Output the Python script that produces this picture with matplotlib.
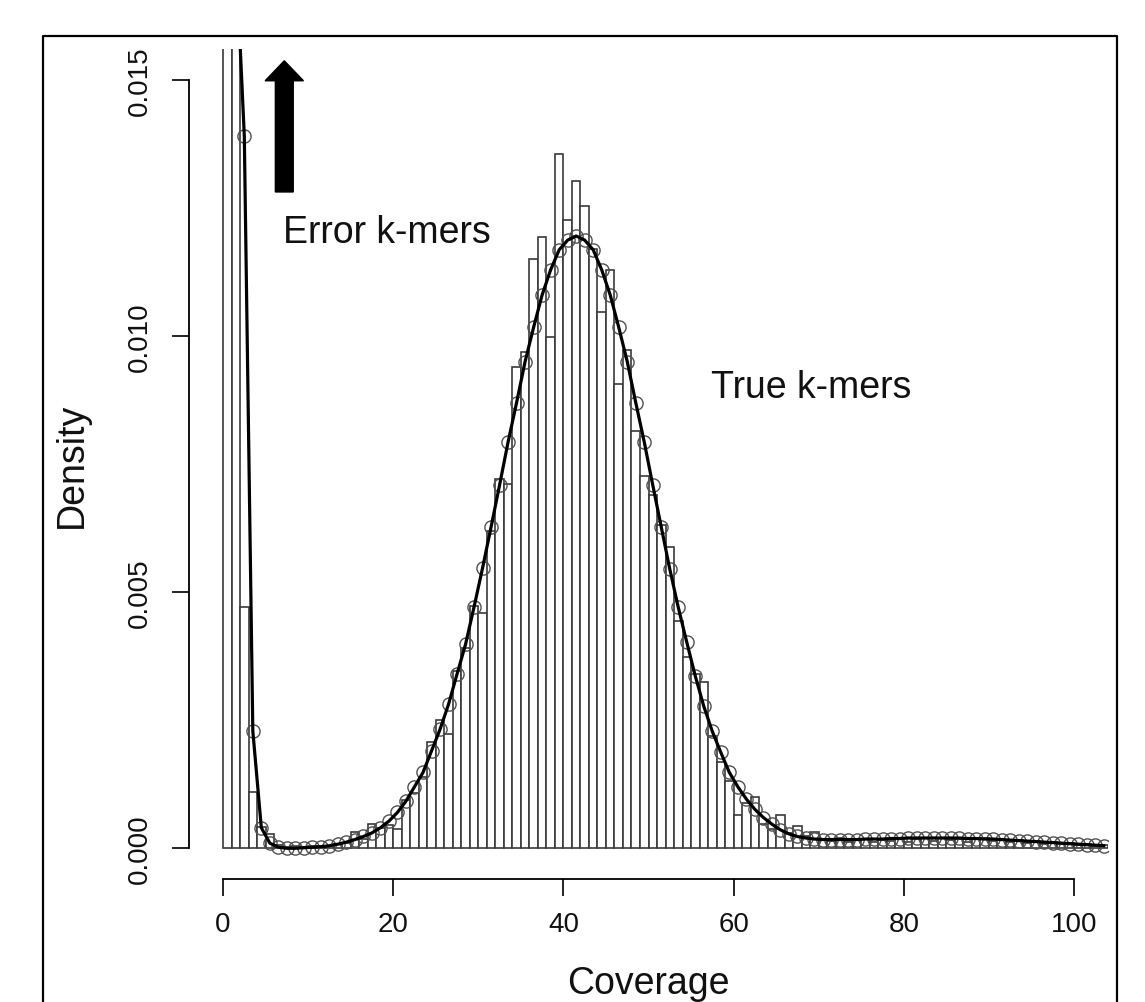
import numpy as np
import matplotlib.pyplot as plt
from matplotlib.patches import FancyArrow
from matplotlib.lines import Line2D

plt.rcParams['font.family'] = ['Liberation Sans', 'DejaVu Sans']

# histogram: density of k-mers per coverage bin [k, k+1)
bin_left = list(range(0, 104))
hist_density = [
    0.060, 0.028, 0.0047, 0.0011, 0.00042, 0.00027, 0.00006, 0.00003, 0.00004, 0.00003,
    0.00004, 0.00005, 0.00004, 0.00009, 0.00011, 0.00032, 0.00018, 0.00047, 0.00039, 0.00045,
    0.00037, 0.00094, 0.00108, 0.0014, 0.00207, 0.0025, 0.00223, 0.00346, 0.0039, 0.00473,
    0.0046, 0.0062, 0.0072, 0.00711, 0.00939, 0.00968, 0.01151, 0.01194, 0.00997, 0.01355,
    0.01226, 0.01302, 0.01254, 0.0117, 0.01046, 0.01129, 0.00907, 0.00973, 0.00814, 0.00726,
    0.0069, 0.0063, 0.00588, 0.00443, 0.00373, 0.0034, 0.00324, 0.00219, 0.00168, 0.00131,
    0.00065, 0.00088, 0.001, 0.00047, 0.00037, 0.00065, 0.0003, 0.00043, 0.00024, 0.00031,
    0.00016, 0.00014, 0.0002, 0.00013, 0.00016, 0.00019, 0.00012, 0.00017, 0.00015, 0.0002,
    0.00013, 0.00018, 0.0002, 0.00014, 0.00021, 0.00016, 0.00019, 0.00013, 0.00018, 0.0002,
    0.00014, 0.00017, 0.00012, 0.00016, 0.00011, 0.00014, 0.00009, 0.00012, 0.00008, 0.0001,
    0.00006, 0.00008, 0.00005, 0.00006,
]

# fitted model, evaluated at the bin centres
fit_x = [k + 0.5 for k in range(0, 104)]
fit_density = [
    0.030, 0.0175, 0.0139, 0.00229, 0.0004, 0.0001, 0.00002, 0.0, 0.0, 0.00001,
    0.00002, 0.00003, 0.00005, 0.00008, 0.00012, 0.00017, 0.00023, 0.0003, 0.0004, 0.00053,
    0.0007, 0.00092, 0.0012, 0.00148, 0.0019, 0.00232, 0.00281, 0.0034, 0.00398, 0.00471,
    0.00547, 0.00627, 0.00709, 0.00793, 0.0087, 0.0095, 0.01017, 0.0108, 0.01129, 0.01168,
    0.01187, 0.01195, 0.01187, 0.01168, 0.01129, 0.0108, 0.01017, 0.0095, 0.0087, 0.00793,
    0.00709, 0.00627, 0.00545, 0.0047, 0.00402, 0.00336, 0.00277, 0.00228, 0.00187, 0.00148,
    0.0012, 0.00096, 0.00076, 0.0006, 0.00047, 0.00036, 0.00028, 0.00023, 0.0002, 0.00018,
    0.00017, 0.00017, 0.00017, 0.00017, 0.00017, 0.00018, 0.00018, 0.00018, 0.00019, 0.00019,
    0.0002, 0.0002, 0.0002, 0.0002, 0.0002, 0.0002, 0.0002, 0.00019, 0.00019, 0.00018,
    0.00018, 0.00017, 0.00016, 0.00015, 0.00014, 0.00013, 0.00012, 0.00011, 0.0001, 0.00009,
    0.00008, 0.00007, 0.00006, 0.00005,
]

x_ticks = [0, 20, 40, 60, 80, 100]
y_ticks = [0.000, 0.005, 0.010, 0.015]
y_tick_labels = ['0.000', '0.005', '0.010', '0.015']

W, H = 1145, 1003
fig = plt.figure(figsize=(W / 100, H / 100), dpi=100)
ax = fig.add_axes([189 / W, 1 - 880 / H, (1108 - 189) / W, (880 - 50) / H])

# histogram bars
ax.bar(bin_left, hist_density, width=1, align='edge', facecolor='white',
       edgecolor='#3a3a3a', linewidth=1.2, zorder=1)

# fitted curve with open circles
ax.plot(fit_x, fit_density, color='black', linewidth=2.3, zorder=3)
ax.plot(fit_x, fit_density, linestyle='none', marker='o', markersize=9.5,
        markerfacecolor='none', markeredgecolor='#505050', markeredgewidth=1.0, zorder=2)

ax.set_xlim(-4, 104)
ax.set_ylim(-0.0006, 0.0156)

# R-style axes
for s in ['top', 'right']:
    ax.spines[s].set_visible(False)
ax.spines['left'].set_bounds(0, 0.015)
ax.spines['bottom'].set_bounds(0, 100)
ax.spines['left'].set_linewidth(1.3)
ax.spines['bottom'].set_linewidth(1.3)

ax.set_xticks(x_ticks)
ax.set_xticklabels([str(t) for t in x_ticks])
ax.set_yticks(y_ticks)
ax.set_yticklabels(y_tick_labels, rotation=90, va='center')
ax.tick_params(axis='both', direction='out', length=12, width=1.3, labelsize=20,
               colors='#111111')
ax.tick_params(axis='x', pad=11)
ax.tick_params(axis='y', pad=14)

# arrow pointing to the error peak
ax.add_patch(FancyArrow(7.2, 0.01281, 0, 0.00256, width=2.1, head_width=4.5,
                        head_length=0.00039, length_includes_head=True,
                        color='black', zorder=4))

ax.text(7.1, 0.01184, 'Error k-mers', fontsize=27, color='#111111', va='baseline')
ax.text(57.3, 0.00881, 'True k-mers', fontsize=27, color='#111111', va='baseline')

fig.text(72 / W, 1 - 465 / H, 'Density', rotation=90, ha='center', va='center',
         fontsize=27, color='#111111')
# the original crops this label at the bottom edge; keep it just inside
fig.text(648 / W, 1 - 994 / H, 'Coverage', ha='center', va='baseline',
         fontsize=27, color='#111111')

# outer frame (bottom edge is cut off in the original)
fig.add_artist(Line2D([43 / W, 43 / W, 1117 / W, 1117 / W], [0, 1 - 37 / H, 1 - 37 / H, 0],
                      color='black', linewidth=1.6))

fig.savefig('out.png', dpi=100)
